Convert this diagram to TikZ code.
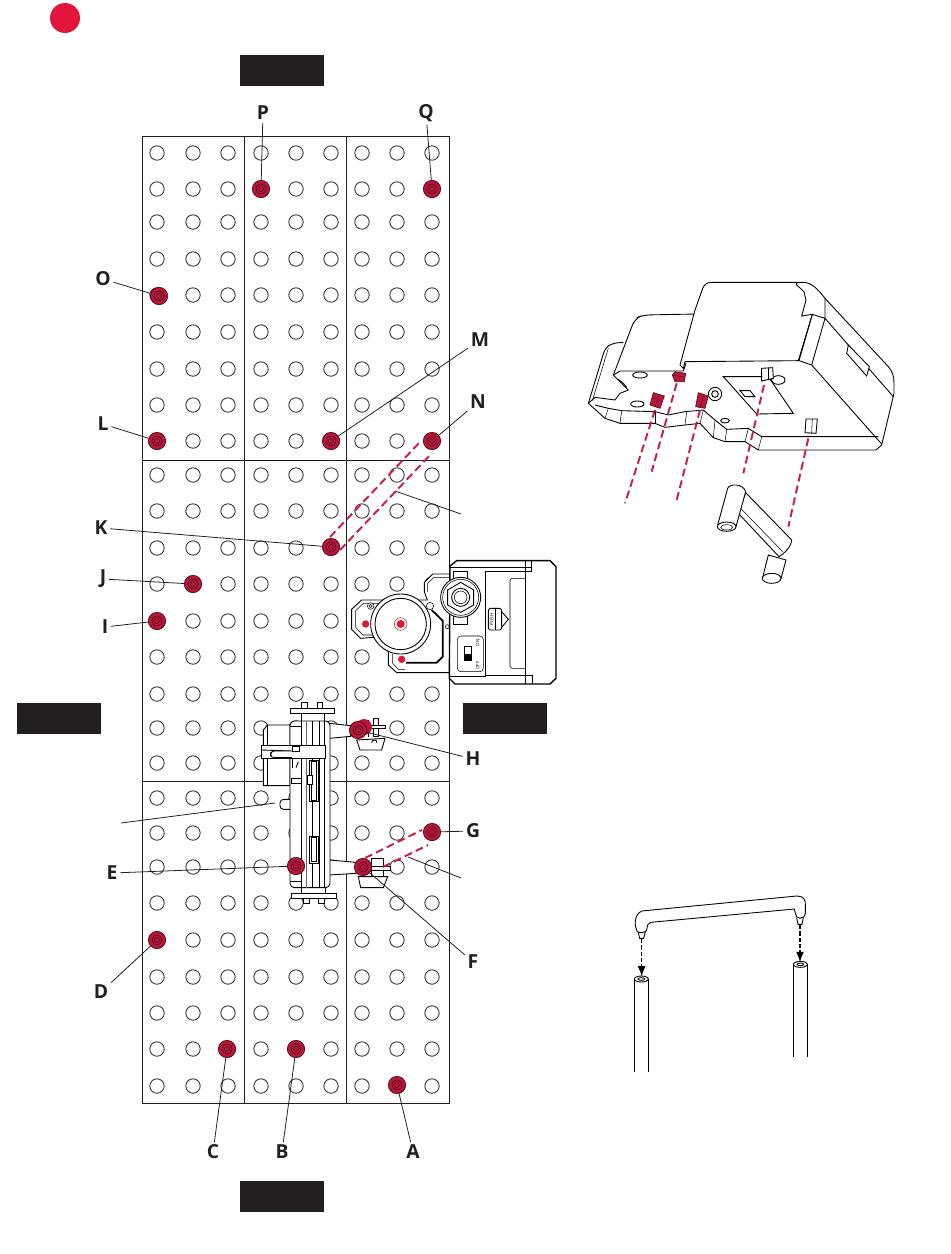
\documentclass[tikz,border=0pt]{standalone}
\usepackage{fontspec}
\setmainfont{Open Sans}
\usetikzlibrary{calc}
\usetikzlibrary{math}
\usetikzlibrary{arrows.meta}
\definecolor{boltRed}{HTML}{B8173A}
\definecolor{boltDark}{HTML}{5A1020}
\definecolor{markRed}{HTML}{E0163A}
\definecolor{dashRed}{HTML}{C81E45}
\definecolor{coverBlack}{HTML}{231F20}
\tikzset{
    holering/.style={line width=0.5pt, draw=black!80},
    panelline/.style={line width=0.55pt, draw=coverBlack},
    leaderline/.style={line width=0.45pt, draw=coverBlack},
    devline/.style={line width=0.5pt, draw=black},
    devthin/.style={line width=0.3pt, draw=black},
    boltnode/.style={circle, draw=boltDark, line width=0.5pt, fill=boltRed, minimum size=9.8pt, inner sep=0pt},
    keylabel/.style={font=\bfseries\fontsize{11}{11}\selectfont, text=coverBlack, inner sep=1.5pt},
    coverbox/.style={fill=coverBlack, minimum width=47.6pt, minimum height=17.6pt, inner sep=0pt},
    reddash/.style={line width=1.1pt, draw=dashRed, dash pattern=on 4.5pt off 2.4pt},
    blackdash/.style={line width=0.8pt, draw=black, dash pattern=on 2.4pt off 1.2pt, -{Latex[length=6pt,width=4.5pt]}},
    tinytext/.style={font=\fontsize{2.6}{3}\selectfont, inner sep=0pt, rotate=90},
}
\begin{document}
\begin{tikzpicture}[x=0.02cm, y=-0.02cm]
    \useasboundingbox (0,0) rectangle (950,1254);

    % step marker and covers
    \fill[markRed] (65,18) circle (15);
    \node[coverbox] (cover_top) at (282,70.5) {};
    \node[coverbox] (cover_left) at (59,718.5) {};
    \node[coverbox] (cover_right) at (505,718.5) {};
    \node[coverbox] (cover_bottom) at (282,1196.5) {};

    % holes of the three panels
    \foreach \y in {153,189,222,259,295,332,369,405,441,475,511,548,584,621,657,694,728,763,798,833,867,903,940,977,1013,1049,1086}
    {
        \foreach \x in {157,193,228,261,296,331,362,397,432}
        {
            \draw[holering] (\x,\y) circle (7.2);
        }
    }

    \draw[panelline] (142,136) rectangle (449,1103);
    \draw[panelline] (244,136) -- (244,1103);
    \draw[panelline] (346,136) -- (346,1103);
    \draw[panelline] (142,460) -- (449,460);
    \draw[panelline] (142,781) -- (449,781);

    % side unit on the right panel
    \begin{scope}[shift={(340,550)}, scale=1/3]
        \draw[devline, fill=white] (330,72) -- (278,72) -- (253,97) -- (253,125) -- (262,150) -- (130,150) -- (65,150) -- (35,178) -- (35,238) -- (62,265) -- (100,262) -- (145,305) -- (145,345) -- (170,368) -- (330,368) -- cycle;
        \draw[devthin] (330,82) -- (282,82) -- (263,100) -- (263,125);
        \draw[devthin] (120,160) -- (70,160) -- (47,182) -- (47,232) -- (68,255) -- (100,255);
        \draw[devthin] (158,312) -- (158,340) -- (175,358) -- (195,358);
        \draw[devline, fill=white] (182,222) circle (90);
        \draw[devline, fill=white] (182,222) circle (77);
        \draw[line width=1pt] (198,338) -- (290,338) -- (308,320) -- (308,212) -- (275,180);
        \draw[devthin, fill=white] (92,168) circle (10);
        \draw[devthin] (92,168) circle (5);
        \draw[devthin, fill=white] (270,168) circle (11);
        \draw[devthin, fill=white] (322,230) circle (6);
        \fill[markRed] (77,222) circle (11);
        \draw[devthin, draw=boltRed] (182,222) circle (19);
        \fill[markRed] (182,222) circle (12);
        \fill[markRed] (185,328) circle (11);

        % motor box
        \draw[line width=0.8pt, fill=white] (330,48) -- (350,32) -- (630,32) -- (648,50) -- (648,385) -- (630,402) -- (345,402) -- (328,385) -- cycle;
        \draw[devline] (557,32) -- (557,402);
        \draw[devline] (328,52) -- (575,52) -- (575,32);
        \draw[devline] (575,52) -- (575,65) -- (437,65) -- (437,375) -- (578,375) -- (578,402);
        \draw[devthin] (328,378) -- (437,378);
        \draw[devthin, rounded corners=1pt] (557,85) -- (510,85) -- (510,355) -- (557,355);
        % nut
        \draw[devline, fill=white] (340,65) rectangle (382,88);
        \draw[devline, fill=white] (340,198) rectangle (382,224);
        \draw[devline, fill=white] (362,142) circle (60);
        \draw[devthin] (362,142) circle (54);
        \draw[devline, fill=white] (362,97) -- (401,120) -- (401,165) -- (362,187) -- (323,165) -- (323,120) -- cycle;
        \draw[devline] (362,142) circle (27);
        \draw[devthin] (362,142) circle (19);
        % push button
        \draw[devline] (485,185) -- (505,208) -- (485,232);
        \draw[devline, fill=white, rounded corners=1pt] (445,175) rectangle (485,240);
        \draw[devthin] (465,175) -- (465,240);
        \node[tinytext] (push_text) at (455,208) {PUSH};
        % switch
        \draw[devthin, rounded corners=2pt] (352,258) rectangle (430,365);
        \draw[devthin] (372,290) rectangle (393,332);
        \fill[black] (372,312) rectangle (393,332);
        \node[tinytext] (on_text) at (413,278) {ON};
        \node[tinytext] (off_text) at (413,347) {OFF};
    \end{scope}

    % long unit across the two lower panels
    \begin{scope}[shift={(230,695)}, scale=1/3]
        % left block
        \draw[devline, fill=white] (100,105) -- (112,90) -- (180,90) -- (180,272) -- (100,272) -- cycle;
        \draw[devthin] (112,90) -- (112,150);
        \draw[devthin] (112,190) -- (112,272);
        % nub
        \draw[devline, fill=white, rounded corners=2pt] (180,313) -- (150,313) -- (150,343) -- (180,343);
        % arms
        \draw[devline, fill=white] (298,85) -- (362,92) -- (362,124) -- (298,130) -- cycle;
        \draw[devline, fill=white] (298,495) -- (378,502) -- (378,535) -- (298,540) -- cycle;
        % top and bottom plates
        \draw[devline, fill=white] (215,55) rectangle (283,80);
        \draw[devline, fill=white] (215,578) rectangle (285,595);
        \foreach \x in {215,262}
        {
            \draw[devline, fill=white] (\x,22) rectangle (\x+16,40);
        }
        \foreach \x in {220,265}
        {
            \draw[devline, fill=white] (\x,610) rectangle (\x+17,625);
        }
        \draw[devline, fill=white] (182,40) rectangle (313,55);
        \draw[devline, fill=white] (185,595) rectangle (320,610);
        % body
        \draw[devline, fill=white, rounded corners=2.5pt] (180,78) rectangle (300,578);
        \foreach \x in {215,248,268,283}
        {
            \draw[devline] (\x,78) -- (\x,578);
        }
        \draw[devthin, draw=black!60] (230,78) -- (230,578);
        \draw[devthin] (180,95) -- (215,95);
        \draw[devthin] (180,560) -- (215,560);
        % band with hook
        \draw[devline, fill=white] (95,152) rectangle (285,190);
        \draw[devline] (95,165) -- (185,168);
        \draw[devline, fill=white, rounded corners=2pt] (185,168) -- (122,168) -- (122,188) -- (185,190);
        \draw[devline, fill=white] (188,155) rectangle (208,170);
        \draw[devthin] (130,188) -- (185,188);
        \draw[devline] (188,190) -- (188,218);
        \draw[devline] (205,200) -- (198,218);
        \draw[devline, fill=white] (185,250) rectangle (213,265);
        % slots
        \draw[devline, fill=white] (237,195) rectangle (265,318);
        \draw[devthin] (243,200) rectangle (260,315);
        \draw[devthin, fill=white] (232,240) rectangle (248,268);
        \draw[devline, fill=white] (237,423) rectangle (265,505);
        \draw[devthin] (243,428) rectangle (260,500);
        % upper clamp
        \draw[devline, fill=white] (380,135) -- (390,165) -- (455,165) -- (465,130) -- cycle;
        \draw[devline] (425,143) arc (180:360:8);
        \draw[devline, fill=white] (430,70) rectangle (445,125);
        \draw[devline, fill=white] (400,90) rectangle (465,100);
        \draw[devline] (415,75) -- (415,125);
        % lower clamp
        \draw[devline, fill=white] (385,545) -- (392,578) -- (460,578) -- (473,545) -- cycle;
        \draw[devline, fill=white] (425,490) rectangle (460,545);
        \draw[devline, fill=white] (425,515) rectangle (480,525);
    \end{scope}

    % second head behind bolt H
    \fill[boltRed] (364,727) circle (8);

    % fastening points and their letters
    \foreach \key/\x/\y/\lx/\ly in {P/261/189/263/113, Q/432/189/426/113, O/159/296/103/279, L/157/441/103/424, M/331/441/480/340, N/432/441/478/402, K/331/547/101/528, J/193/584/103/579, I/157/621/105/627, H/358/730/473/759, G/432/832/473/831, F/363/867/473/962, E/296/866/112/873, D/157/940/101/992, C/227/1049/213/1152, B/296/1049/282/1152, A/397/1085/413/1152}
    {
        \node[boltnode] (bolt_\key) at (\x,\y) {};
        \draw[boltDark, line width=0.45pt] (bolt_\key.center) circle (5);
        \draw[boltDark, line width=0.35pt] (bolt_\key.center) circle (2.5);
        \node[keylabel] (key_\key) at (\lx,\ly) {\key};
        \draw[leaderline] (key_\key) -- (bolt_\key);
    }

    % leaders without a letter
    \foreach \i/\xa/\ya/\xb/\yb in {1/395/491/461/514, 2/121/823/275/803, 3/408/857/461/878}
    {
        \coordinate (free_a\i) at (\xa,\ya);
        \coordinate (free_b\i) at (\xb,\yb);
        \draw[leaderline] (free_a\i) -- (free_b\i);
    }

    % paired guide lines
    \draw[reddash] ($(bolt_K)+(-1,-10)$) -- ($(bolt_N)+(-12,1)$);
    \draw[reddash] ($(bolt_K)+(9,3)$) -- ($(bolt_N)+(0,12)$);
    \draw[reddash] ($(bolt_F)+(2,-9)$) -- ($(bolt_G)+(-10,-2)$);
    \draw[reddash] ($(bolt_F)+(20,0)$) -- ($(bolt_G)+(-4,13)$);

    % underside view
    \begin{scope}[shift={(580,270)}, scale=1/3]
        % small block on the left
        \draw[devline, rounded corners=3pt] (25,400) -- (75,235) -- (95,220) -- (130,217);
        \draw[devthin] (37,392) -- (85,235);
        \draw[devline] (25,400) -- (45,382) -- (105,390) -- (120,370) -- (145,360) -- (100,315);
        \draw[devline] (115,328) -- (130,340) -- (140,352);
        \draw[devline, rounded corners=4pt] (100,315) -- (165,145) -- (190,135) -- (350,132);
        \draw[devline] (100,315) -- (120,303) -- (300,303);
        % big body
        \draw[devline, fill=white] (345,120) -- (300,285) -- (310,295) -- (315,275) -- (655,272) -- (697,133) -- (665,138) -- (678,90) -- (672,65) -- (650,45) -- (650,37) -- (395,37) .. controls (380,37) and (372,45) .. (368,55) -- cycle;
        \draw[devline] (300,303) -- (310,303) -- (318,280);
        \draw[devline] (650,37) -- (665,37) .. controls (695,35) and (715,60) .. (735,85) -- (925,290) .. controls (938,305) and (942,320) .. (942,340) -- (942,370) -- (905,525) -- (888,540);
        \draw[devline] (735,85) -- (735,145) -- (697,133);
        \draw[devline] (735,145) -- (695,285);
        \draw[devline] (697,133) -- (657,272) -- (695,285) -- (905,522);
        \draw[devline] (735,145) -- (940,380);
        \draw[devline, fill=white] (805,225) -- (868,290) -- (860,318) -- (800,250) -- cycle;
        % front edge
        \draw[devline] (25,400) -- (75,445) -- (120,460) -- (225,460) -- (255,472) -- (315,465) -- (360,460) -- (400,503) -- (435,515) -- (495,515) -- (535,540) -- (888,540);
        \draw[devline] (45,405) -- (85,415) -- (125,422) -- (225,425) -- (265,435) -- (315,425) -- (370,420) -- (405,450) -- (440,478) -- (505,475) -- (545,500) -- (895,500);
        \draw[devthin] (85,415) -- (75,445);
        \draw[devthin] (125,422) -- (120,460);
        \draw[devthin] (225,425) -- (225,460);
        \draw[devthin] (320,425) -- (315,465);
        \draw[devthin] (370,420) -- (360,460);
        \draw[devthin] (405,450) -- (400,503);
        \draw[devthin] (440,478) -- (435,515);
        \draw[devthin] (505,475) -- (495,515);
        \draw[devthin] (545,500) -- (535,540);
        % plate and holes
        \draw[devline] (430,320) -- (565,320) -- (640,430) -- (530,432) -- cycle;
        \draw[devline] (480,362) -- (510,362) -- (525,380) -- (495,380) -- cycle;
        \draw[devline] (180,315) ellipse (22 and 9);
        \draw[devline] (172,402) ellipse (20 and 9);
        \draw[devline] (435,452) ellipse (13 and 7);
        \draw[devline] (595,330) ellipse (20 and 13);
        \draw[devline] (405,372) circle (20);
        \draw[devline] (405,372) circle (10);
        % white feet
        \draw[devline, fill=white] (545,295) -- (578,293) -- (580,325) -- (545,333) -- cycle;
        \draw[devthin] (565,294) -- (565,330);
        \draw[devline, fill=white] (678,447) -- (712,447) -- (708,490) -- (675,488) -- cycle;
        \draw[devthin] (697,447) -- (695,490);
        % red feet
        \draw[boltDark, line width=0.4pt, fill=boltRed] (277,315) -- (285,305) -- (317,310) -- (313,335) -- (285,335) -- cycle;
        \draw[boltDark, line width=0.3pt] (277,315) -- (312,320);
        \draw[boltDark, line width=0.4pt, fill=boltRed] (210,405) -- (220,368) -- (253,378) -- (240,415) -- cycle;
        \draw[boltDark, line width=0.3pt] (237,374) -- (225,410);
        \draw[boltDark, line width=0.4pt, fill=boltRed] (347,410) -- (355,368) -- (385,378) -- (375,415) -- cycle;
        \draw[boltDark, line width=0.3pt] (372,374) -- (360,412);
        % guide lines
        \foreach \i/\xa/\ya/\xb/\yb in {1/290/340/215/605, 2/225/420/135/700, 3/360/420/290/690, 4/552/345/490/610, 5/685/505/625/770}
        {
            \coordinate (guide_a\i) at (\xa,\ya);
            \coordinate (guide_b\i) at (\xb,\yb);
            \draw[reddash] (guide_a\i) -- (guide_b\i);
        }
        % crank
        \draw[devline, fill=white] (548,922) -- (565,855) -- (618,870) -- (603,925) -- cycle;
        \draw[devline, fill=white] (575,925) ellipse (28 and 15);
        \draw[devline, fill=white] (475,730) -- (497,668) -- (635,810) .. controls (635,825) and (620,845) .. (597,860) -- cycle;
        \draw[devthin] (482,715) -- (608,845);
        \draw[devline, fill=white] (413,765) -- (443,655) .. controls (448,640) and (490,640) .. (497,665) -- (468,770) -- cycle;
        \draw[devline, fill=white] (440,770) ellipse (28 and 14);
        \draw[devthin] (440,772) ellipse (18 and 8);
    \end{scope}

    % bar above the two posts
    \begin{scope}[shift={(620,885)}, scale=1/3]
        \draw[devline] (52,140) .. controls (42,120) and (42,90) .. (65,78) -- (530,33) .. controls (550,32) and (558,45) .. (556,60) -- (556,85) .. controls (554,95) and (548,100) .. (540,100) .. controls (532,100) and (526,92) .. (526,85) -- (523,72) -- (92,112) .. controls (84,114) and (82,120) .. (80,135) .. controls (78,142) and (60,146) .. (52,140);
        \draw[devline] (55,142) -- (59,160) -- (71,160) -- (76,140);
        \draw[devline] (530,98) -- (534,118) -- (546,118) -- (550,98);
        \coordinate (tip_left) at (65,162);
        \coordinate (hole_left) at (65,275);
        \coordinate (tip_right) at (540,120);
        \coordinate (hole_right) at (540,232);
        \draw[blackdash] (tip_left) -- (hole_left);
        \draw[blackdash] (tip_right) -- (hole_right);
        \draw[devline] (43,282) -- (43,560);
        \draw[devline] (85,282) -- (85,560);
        \draw[devline] (64,282) ellipse (21 and 9);
        \draw[devline] (64,282) ellipse (10 and 4);
        \draw[devline] (520,238) -- (520,515);
        \draw[devline] (562,238) -- (562,515);
        \draw[devline] (541,238) ellipse (21 and 9);
        \draw[devline] (541,238) ellipse (10 and 4);
    \end{scope}
\end{tikzpicture}
\end{document}
